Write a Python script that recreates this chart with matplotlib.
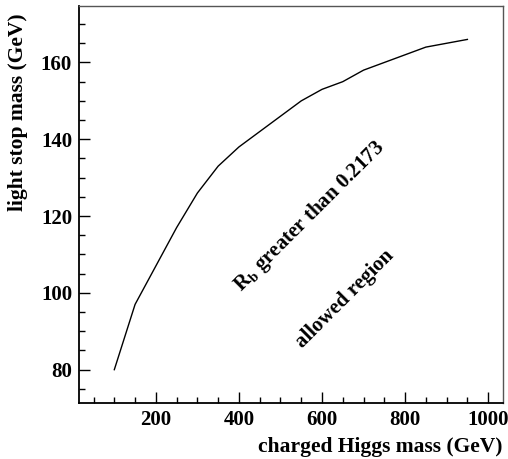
import numpy as np
import matplotlib.pyplot as plt
import matplotlib
from matplotlib.ticker import MultipleLocator

matplotlib.rc('font', family='Liberation Serif', weight='bold')
matplotlib.rc('mathtext', fontset='custom', rm='Liberation Serif:bold', bf='Liberation Serif:bold')

# charged Higgs mass (GeV) vs light stop mass (GeV), boundary of Rb > 0.2173
higgs_mass = [100, 150, 200, 250, 300, 350, 400, 450, 500, 550, 600, 650, 700, 750, 800, 850, 900, 950]
stop_mass = [80, 97, 107, 117, 126, 133, 138, 142, 146, 150, 153, 155, 158, 160, 162, 164, 165, 166]

fig = plt.figure(figsize=(5.08, 4.59), dpi=100)
ax = fig.add_axes([79 / 508, 1 - 402.7 / 459, (502.7 - 79) / 508, (402.7 - 6.4) / 459])

ax.plot(higgs_mass, stop_mass, color='black', linewidth=1)

ax.set_xlim(15, 1035)
ax.set_ylim(71.4, 174.6)
ax.xaxis.set_major_locator(MultipleLocator(200))
ax.xaxis.set_minor_locator(MultipleLocator(50))
ax.yaxis.set_major_locator(MultipleLocator(20))
ax.yaxis.set_minor_locator(MultipleLocator(5))
ax.tick_params(which='both', direction='in', top=False, right=False, labelsize=15, width=1)
ax.tick_params(which='major', length=8, pad=5)
ax.tick_params(which='minor', length=4)
for side in ['left', 'bottom']:
    ax.spines[side].set_linewidth(1.3)
for side in ['top', 'right']:
    ax.spines[side].set_linewidth(1)
    ax.spines[side].set_color('#555555')

# labels
ax.set_xlabel('charged Higgs mass (GeV)', fontsize=15.5, fontweight='bold', ha='right', va='center')
ax.xaxis.set_label_coords(1.0, -0.112)
ax.set_ylabel('light stop mass (GeV)', fontsize=15.5, fontweight='bold', ha='center', va='center')
ax.yaxis.set_label_coords(-0.144, 0.733)

ax.text(571, 120, r'R$_\mathrm{b}$ greater than 0.2173', fontsize=15, fontweight='bold',
        rotation=45, ha='center', va='center', rotation_mode='anchor')
ax.text(655, 98.4, 'allowed region', fontsize=15, fontweight='bold',
        rotation=45, ha='center', va='center', rotation_mode='anchor')

fig.savefig('out.png', dpi=100)
